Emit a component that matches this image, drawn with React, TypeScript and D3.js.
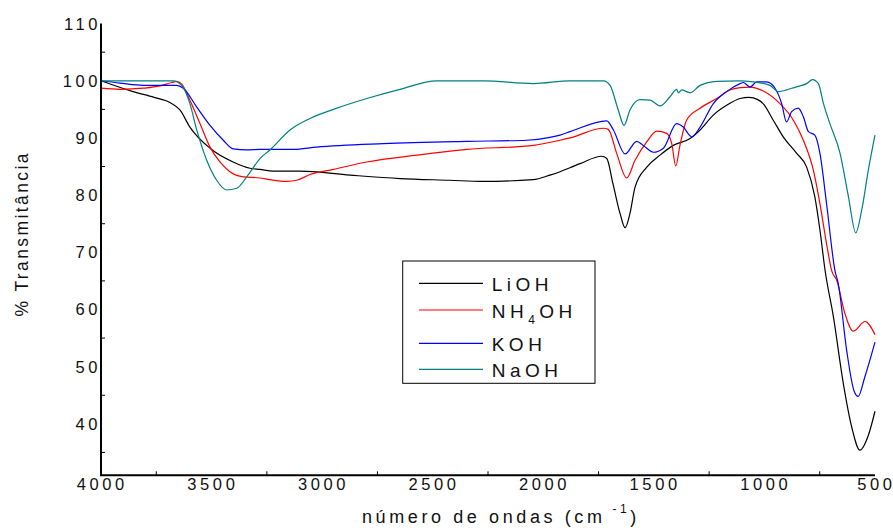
import React from 'react';
import * as d3 from 'd3';

const width = 893;
const height = 528;
const left = 101;
const right = 875;
const top = 23.6;
const bottom = 475.3;

// [wavenumber, % transmittance]
const liohSpectrum: [number, number][] = [
  [4000, 100], [3855, 98.1], [3760, 97.1], [3688, 96.2], [3643, 94.9], [3598, 91.9],
  [3507, 88.2], [3403, 85.8], [3326, 84.7], [3281, 84.5], [3222, 84.2], [3100, 84.2],
  [2874, 83.5], [2648, 82.9], [2422, 82.6], [2273, 82.4], [2046, 82.7], [1970, 83.5],
  [1924, 84.1], [1879, 84.8], [1834, 85.5], [1736, 86.8], [1713, 86.4], [1685, 82.0],
  [1653, 76.8], [1630, 74.3], [1608, 76.8], [1585, 81.4], [1532, 84.9], [1472, 87.0],
  [1412, 88.7], [1336, 89.9], [1291, 91.4], [1231, 94.0], [1171, 95.7], [1110, 96.9],
  [1070, 97.1], [1030, 96.7], [1006, 96.0], [960, 93.1], [915, 90.2], [854, 87.3],
  [809, 84.9], [772, 79.7], [749, 73.9], [726, 66.9], [688, 58.7], [643, 47.0],
  [605, 39.4], [568, 35.4], [530, 38.0], [500, 42.2],
];

const nh4ohSpectrum: [number, number][] = [
  [4000, 98.7], [3914, 98.5], [3809, 98.7], [3733, 99.1], [3680, 99.7], [3658, 99.9],
  [3635, 99.4], [3598, 96.6], [3552, 92.5], [3507, 88.4], [3462, 85.8], [3417, 84.1],
  [3356, 83.2], [3281, 83.0], [3236, 82.7], [3160, 82.4], [3115, 82.6], [3055, 83.6],
  [2949, 84.5], [2798, 85.8], [2572, 87.0], [2346, 88.0], [2045, 88.7], [1924, 89.6],
  [1879, 90.0], [1728, 91.7], [1706, 91.5], [1668, 87.3], [1623, 83.0], [1585, 86.1],
  [1532, 89.3], [1487, 91.2], [1442, 90.8], [1419, 89.0], [1401, 85.1], [1382, 88.7],
  [1352, 93.1], [1291, 95.2], [1216, 96.9], [1156, 98.4], [1110, 98.8], [1065, 98.9],
  [1005, 98.2], [930, 96.0], [869, 93.1], [824, 89.6], [779, 84.4], [749, 78.5],
  [719, 71.5], [696, 66.8], [673, 65.1], [636, 59.3], [598, 56.2], [545, 57.9],
  [500, 55.6],
];

const kohSpectrum: [number, number][] = [
  [4000, 100], [3914, 99.6], [3809, 99.2], [3658, 99.2], [3628, 98.7], [3567, 95.4],
  [3507, 92.2], [3447, 89.6], [3402, 88.1], [3341, 87.9], [3281, 88.0], [3130, 88.0],
  [3025, 88.4], [2723, 89.0], [2346, 89.4], [2075, 89.6], [1970, 90.1], [1924, 90.5],
  [1879, 91.1], [1713, 93.0], [1683, 91.4], [1630, 87.2], [1578, 89.4], [1548, 88.7],
  [1502, 87.5], [1457, 88.2], [1397, 92.5], [1367, 91.9], [1329, 90.2], [1291, 91.9],
  [1231, 96.0], [1171, 98.1], [1110, 99.5], [1096, 99.7], [1065, 98.9], [1035, 99.8],
  [990, 99.8], [952, 98.7], [922, 96.0], [900, 92.8], [877, 94.6], [847, 95.2],
  [824, 93.7], [801, 91.1], [772, 90.5], [749, 87.3], [719, 78.5], [681, 66.8],
  [666, 64.5], [628, 52.8], [595, 45.8], [576, 44.8], [546, 48.2], [500, 54.3],
];

const naohSpectrum: [number, number][] = [
  [4000, 100], [3855, 100], [3674, 100], [3635, 99.2], [3598, 96.0], [3567, 91.4],
  [3522, 86.1], [3477, 82.6], [3432, 80.9], [3386, 81.2], [3341, 83.2], [3281, 86.4],
  [3236, 87.9], [3145, 91.4], [3055, 93.4], [2949, 95.0], [2798, 96.9], [2648, 98.5],
  [2482, 100], [2271, 100], [2045, 99.5], [1879, 100], [1728, 100], [1698, 99.2],
  [1661, 94.9], [1635, 92.2], [1608, 94.9], [1563, 96.7], [1517, 96.6], [1472, 95.6],
  [1427, 97.2], [1397, 98.5], [1389, 97.9], [1374, 98.4], [1336, 97.9], [1291, 99.2],
  [1216, 99.9], [1110, 100], [1050, 99.8], [975, 99.2], [937, 98.1], [900, 98.4],
  [877, 98.7], [839, 99.1], [809, 99.5], [782, 100.2], [756, 99.5], [733, 96.0],
  [704, 92.5], [658, 87.3], [620, 79.7], [587, 73.4], [560, 77.4], [530, 84.4],
  [500, 90.5],
];

const seriesNames = ['LiOH', 'NH4OH', 'KOH', 'NaOH'];
const seriesColors = ['#000000', '#ff0000', '#0000ff', '#008080'];
const seriesData = [liohSpectrum, nh4ohSpectrum, kohSpectrum, naohSpectrum];

const xTicks = [4000, 3500, 3000, 2500, 2000, 1500, 1000, 500];
const xMinorTicks = [3750, 3250, 2750, 2250, 1750, 1250, 750];
const yTicks = [40, 50, 60, 70, 80, 90, 100, 110];
const yMinorTicks = [35, 45, 55, 65, 75, 85, 95, 105];

const xScale = d3.scaleLinear().domain([4000, 500]).range([left, right]);
const yScale = d3.scaleLinear().domain([31, 110]).range([bottom, top]);

const line = d3.line<[number, number]>()
  .x(d => xScale(d[0]))
  .y(d => yScale(d[1]))
  .curve(d3.curveMonotoneX);

const font = 'Arial, "Liberation Sans", sans-serif';

// spaced-out text without trailing spacing after the last glyph
function Spaced({ s }: { s: string }) {
  return <>{s.slice(0, -1)}<tspan letterSpacing={0}>{s.slice(-1)}</tspan></>;
}

function Label({ name }: { name: string }) {
  if (name === 'NH4OH') {
    return (
      <>
        NH<tspan fontSize={12} dy={6}>4</tspan><tspan dy={-6}>OH</tspan>
      </>
    );
  }
  return <>{name}</>;
}

export default function App() {
  const legendX = 402.7;
  const legendY = 261;
  const legendRows = [283.3, 310, 343.3, 369.3];

  return (
    <svg
      width={width}
      height={height}
      viewBox={`0 0 ${width} ${height}`}
      style={{ position: 'absolute', left: 0, top: 0, background: '#fff' }}
      fontFamily={font}
    >
      {seriesData.map((d, i) => (
        <path key={seriesNames[i]} d={line(d) || ''} fill="none"
          stroke={seriesColors[i]} strokeWidth={1.2} strokeLinejoin="round" />
      ))}

      <g stroke="#000" strokeWidth={1}>
        {xMinorTicks.map(t => (
          <line key={t} x1={xScale(t)} x2={xScale(t)} y1={bottom} y2={bottom - 4} />
        ))}
        {yMinorTicks.map(t => (
          <line key={t} x1={left} x2={left + 4} y1={yScale(t)} y2={yScale(t)} />
        ))}
      </g>
      <path d={`M${left},${top}V${bottom}H${right}`} fill="none" stroke="#000" strokeWidth={2} />

      <g fontSize={16.5} fill="#111" letterSpacing={3.6}>
        {yTicks.map(t => (
          <text key={t} x={left - 3.5} y={yScale(t) + 6} textAnchor="end"><Spaced s={String(t)} /></text>
        ))}
        {xTicks.map(t => (
          <text key={t} x={xScale(t) - 0.5} y={490} textAnchor="middle"><Spaced s={String(t)} /></text>
        ))}
      </g>

      <text x={362} y={523} fontSize={18} letterSpacing={3.6} fill="#111">
        número de ondas (cm<tspan fontSize={12} dy={-10}> -1</tspan><tspan dy={10} letterSpacing={0}>)</tspan>
      </text>
      <text transform="translate(28,235) rotate(-90)" textAnchor="middle" fontSize={17.5}
        letterSpacing={2.4} fill="#111"><Spaced s="% Transmitância" /></text>

      <rect x={legendX} y={legendY} width={595 - legendX} height={383.3 - legendY}
        fill="#fff" stroke="#000" strokeWidth={1} />
      {seriesNames.map((name, i) => (
        <g key={name}>
          <line x1={419} x2={483} y1={legendRows[i]} y2={legendRows[i]}
            stroke={seriesColors[i]} strokeWidth={1.2} />
          <text x={491.7} y={legendRows[i] + 7.5} fontSize={19} letterSpacing={4.5} fill="#111">
            <Label name={name} />
          </text>
        </g>
      ))}
    </svg>
  );
}
